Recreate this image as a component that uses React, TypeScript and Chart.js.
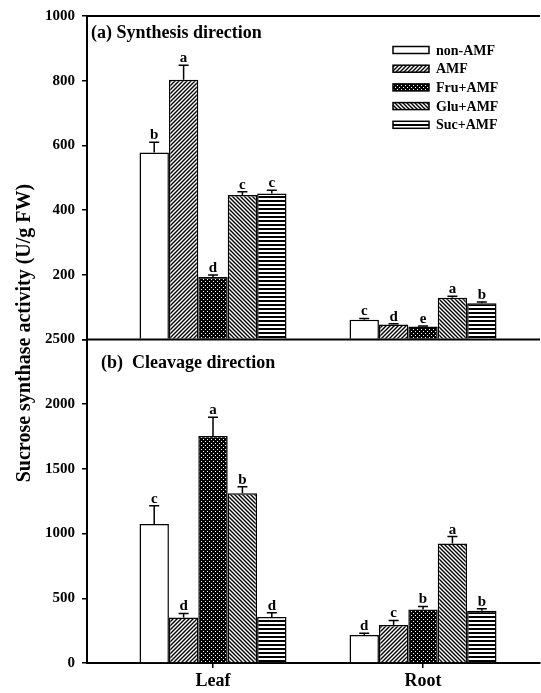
import React, { useEffect, useRef } from 'react';
import { Chart, registerables } from 'chart.js';

Chart.register(...registerables);

// ---------- data ----------
const categories = ['Leaf', 'Root'];
const treatments = ['non-AMF', 'AMF', 'Fru+AMF', 'Glu+AMF', 'Suc+AMF'];

// (a) Synthesis direction  [Leaf, Root]
const synNonAMF = [578, 61];
const synAMF = [803, 46];
const synFru = [193, 40];
const synGlu = [447, 129];
const synSuc = [451, 112];
const synErrNonAMF = [32, 4];
const synErrAMF = [45, 3];
const synErrFru = [6, 2];
const synErrGlu = [10, 5];
const synErrSuc = [10, 4];
const synLetNonAMF = ['b', 'c'];
const synLetAMF = ['a', 'd'];
const synLetFru = ['d', 'e'];
const synLetGlu = ['c', 'a'];
const synLetSuc = ['c', 'b'];

// (b) Cleavage direction  [Leaf, Root]
const cleNonAMF = [1075, 216];
const cleAMF = [352, 293];
const cleFru = [1755, 414];
const cleGlu = [1312, 923];
const cleSuc = [355, 404];
const cleErrNonAMF = [140, 13];
const cleErrAMF = [31, 36];
const cleErrFru = [145, 23];
const cleErrGlu = [50, 54];
const cleErrSuc = [33, 15];
const cleLetNonAMF = ['c', 'd'];
const cleLetAMF = ['d', 'c'];
const cleLetFru = ['a', 'b'];
const cleLetGlu = ['b', 'a'];
const cleLetSuc = ['d', 'b'];

const synTicks = [0, 200, 400, 600, 800, 1000];
const cleTicks = [0, 500, 1000, 1500, 2000, 2500];

const synValues = [synNonAMF, synAMF, synFru, synGlu, synSuc];
const synErrors = [synErrNonAMF, synErrAMF, synErrFru, synErrGlu, synErrSuc];
const synLetters = [synLetNonAMF, synLetAMF, synLetFru, synLetGlu, synLetSuc];
const cleValues = [cleNonAMF, cleAMF, cleFru, cleGlu, cleSuc];
const cleErrors = [cleErrNonAMF, cleErrAMF, cleErrFru, cleErrGlu, cleErrSuc];
const cleLetters = [cleLetNonAMF, cleLetAMF, cleLetFru, cleLetGlu, cleLetSuc];

const SERIF = '"Liberation Serif", "Times New Roman", serif';

function makePattern(kind: string): any {
  if (kind === 'white') return '#ffffff';
  const c = document.createElement('canvas');
  c.width = 4;
  c.height = 4;
  const g = c.getContext('2d')!;
  g.fillStyle = '#fff';
  g.fillRect(0, 0, 4, 4);
  g.fillStyle = '#000';
  g.strokeStyle = '#000';
  if (kind === 'fwd' || kind === 'back') {
    g.lineWidth = 1.4;
    g.beginPath();
    if (kind === 'fwd') {
      g.moveTo(-1, 5); g.lineTo(5, -1);
      g.moveTo(-3, 3); g.lineTo(3, -3);
      g.moveTo(1, 7); g.lineTo(7, 1);
    } else {
      g.moveTo(-1, -1); g.lineTo(5, 5);
      g.moveTo(-3, 1); g.lineTo(3, 7);
      g.moveTo(1, -3); g.lineTo(7, 3);
    }
    g.stroke();
  } else if (kind === 'dots') {
    g.fillRect(0, 0, 4, 4);
    g.fillStyle = '#fff';
    g.fillRect(1, 1, 1, 1);
    g.fillRect(3, 3, 1, 1);
  } else if (kind === 'horiz') {
    g.fillRect(0, 0, 4, 2);
  }
  const ctx = document.createElement('canvas').getContext('2d')!;
  return ctx.createPattern(c, 'repeat');
}

export default function App() {
  const ref = useRef<HTMLCanvasElement | null>(null);

  useEffect(() => {
    document.body.style.margin = '0';
    const canvas = ref.current;
    if (!canvas) return;

    const fills = ['white', 'fwd', 'dots', 'back', 'horiz'].map(makePattern);

    const datasets: any[] = [];
    treatments.forEach((name, t) => {
      datasets.push({
        label: name,
        data: categories.map((_, i) => ({ x: i, y: synValues[t][i] })),
        yAxisID: 'y1',
        xAxisID: 'x',
        stack: 'g' + t,
        backgroundColor: fills[t],
        borderColor: '#000',
        borderWidth: 1.5,
      });
    });
    treatments.forEach((name, t) => {
      datasets.push({
        label: name + ' (cleavage)',
        data: categories.map((_, i) => ({ x: i, y: cleValues[t][i] })),
        yAxisID: 'y2',
        xAxisID: 'x',
        stack: 'g' + t,
        backgroundColor: fills[t],
        borderColor: '#000',
        borderWidth: 1.5,
      });
    });

    const annotate = {
      id: 'annotate',
      afterDatasetsDraw(chart: any) {
        const ctx = chart.ctx as CanvasRenderingContext2D;
        const area = chart.chartArea;
        ctx.save();
        ctx.strokeStyle = '#000';
        ctx.fillStyle = '#000';
        ctx.lineCap = 'butt';

        // error bars + significance letters
        chart.data.datasets.forEach((_: any, di: number) => {
          const panel = di < 5 ? 0 : 1;
          const t = di % 5;
          const vals = panel === 0 ? synValues[t] : cleValues[t];
          const errs = panel === 0 ? synErrors[t] : cleErrors[t];
          const lets = panel === 0 ? synLetters[t] : cleLetters[t];
          const yScale = chart.scales[panel === 0 ? 'y1' : 'y2'];
          const meta = chart.getDatasetMeta(di);
          meta.data.forEach((bar: any, i: number) => {
            const x = bar.x;
            const yTop = yScale.getPixelForValue(vals[i] + errs[i]);
            ctx.lineWidth = 1.5;
            ctx.beginPath();
            ctx.moveTo(x, bar.y);
            ctx.lineTo(x, yTop);
            ctx.moveTo(x - 5, yTop);
            ctx.lineTo(x + 5, yTop);
            ctx.stroke();
            ctx.font = `bold 15px ${SERIF}`;
            ctx.textAlign = 'center';
            ctx.textBaseline = 'alphabetic';
            ctx.fillText(lets[i], x, yTop - 3);
          });
        });

        // frame lines (top of panel a, divider between panels)
        const y1 = chart.scales.y1;
        ctx.lineWidth = 2;
        ctx.beginPath();
        ctx.moveTo(area.left, y1.top);
        ctx.lineTo(area.right, y1.top);
        ctx.moveTo(area.left, y1.bottom);
        ctx.lineTo(area.right, y1.bottom);
        ctx.stroke();

        // panel titles
        ctx.textAlign = 'left';
        ctx.textBaseline = 'middle';
        ctx.font = `bold 18px ${SERIF}`;
        ctx.fillText('(a) Synthesis direction', 91, 33);
        ctx.fillText('(b)  Cleavage direction', 101, 363);

        // legend
        ctx.font = `bold 14px ${SERIF}`;
        treatments.forEach((name, t) => {
          const cy = 50 + t * 18.7;
          ctx.fillStyle = fills[t];
          ctx.fillRect(393, cy - 3.5, 36, 7);
          ctx.lineWidth = 1.5;
          ctx.strokeStyle = '#000';
          ctx.strokeRect(393, cy - 3.5, 36, 7);
          ctx.fillStyle = '#000';
          ctx.textBaseline = 'middle';
          ctx.fillText(name, 436, cy + 1);
        });

        // shared y axis title
        ctx.save();
        ctx.translate(25, 333);
        ctx.rotate(-Math.PI / 2);
        ctx.textAlign = 'center';
        ctx.textBaseline = 'middle';
        ctx.font = `bold 20px ${SERIF}`;
        ctx.fillText('Sucrose synthase activity (U/g FW)', 0, 0);
        ctx.restore();

        ctx.restore();
      },
    };

    const tickFont = { family: SERIF, weight: 'bold' as const, size: 15 };
    const yCommon = (ticksArr: number[], hideZero: boolean) => ({
      type: 'linear' as const,
      position: 'left' as const,
      stack: 'panels',
      stackWeight: 1,
      min: ticksArr[0],
      max: ticksArr[ticksArr.length - 1],
      afterBuildTicks: (scale: any) => {
        scale.ticks = ticksArr.map((v) => ({ value: v }));
      },
      afterFit: (scale: any) => {
        scale.width = 87;
      },
      ticks: {
        color: '#000',
        font: tickFont,
        padding: 7,
        callback: (v: any) => (hideZero && v === 0 ? '' : String(v)),
      },
      grid: {
        display: true,
        drawOnChartArea: false,
        drawTicks: true,
        tickLength: 5,
        color: '#000',
        lineWidth: 1.5,
      },
      border: { display: true, color: '#000', width: 2 },
    });

    const chart = new Chart(canvas, {
      type: 'bar',
      data: { datasets },
      options: {
        responsive: false,
        animation: false,
        devicePixelRatio: 1,
        layout: { padding: { top: 14, right: 1, left: 0, bottom: 0 } },
        datasets: {
          bar: { categoryPercentage: 0.7, barPercentage: 1.0 },
        },
        plugins: {
          legend: { display: false },
          tooltip: { enabled: false },
        },
        scales: {
          x: {
            type: 'linear',
            min: -0.6,
            max: 1.557,
            offset: false,
            afterBuildTicks: (scale: any) => {
              scale.ticks = categories.map((_, i) => ({ value: i }));
            },
            afterFit: (scale: any) => {
              scale.height = 30;
            },
            ticks: {
              color: '#000',
              font: { family: SERIF, weight: 'bold', size: 18 },
              padding: 3,
              autoSkip: false,
              maxRotation: 0,
              callback: (_v: any, i: number) => categories[i],
            },
            grid: {
              display: true,
              offset: false,
              drawOnChartArea: false,
              drawTicks: true,
              tickLength: 5,
              color: '#000',
              lineWidth: 1.5,
            },
            border: { display: true, color: '#000', width: 2 },
          },
          // left boxes are stacked in reverse order: the later one ends up on top
          y2: yCommon(cleTicks, false),
          y1: yCommon(synTicks, true),
        } as any,
      },
      plugins: [annotate],
    } as any);

    return () => chart.destroy();
  }, []);

  return (
    <div style={{ width: 541, height: 693, position: 'relative' }}>
      <canvas ref={ref} width={541} height={693} style={{ display: 'block' }} />
    </div>
  );
}
